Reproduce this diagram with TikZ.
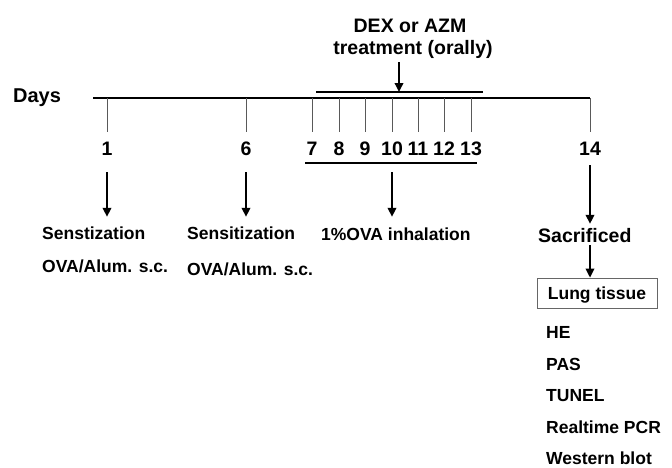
\documentclass[tikz,border=0pt]{standalone}
\usepackage{fontspec}
\setmainfont{Liberation Sans}
\usepackage{tikz}
\usetikzlibrary{positioning, arrows.meta, calc}

\tikzset{
    txt/.style={font=\fontsize{17.5}{20}\selectfont\bfseries, inner sep=0, text height=12.5pt, text depth=0pt},
    big/.style={font=\fontsize{19.5}{22}\selectfont\bfseries, inner sep=0, text height=14pt, text depth=0pt},
    arr/.style={line width=1.8pt, -{Triangle[length=9pt, width=8.5pt]}},
    daytick/.style={line width=0.9pt, black!65},
    spanline/.style={line width=2pt}
}

\begin{document}
\begin{tikzpicture}[x=1pt, y=-1pt]
    \useasboundingbox (0,0) rectangle (672,467);

    % time axis
    \node[big, font=\fontsize{20}{24}\selectfont\bfseries] (days) at (37,95) {Days};
    \draw[line width=2.5pt] (93,98) -- (590,98);

    \foreach \d/\x in {1/107, 6/246, 7/312, 8/339, 9/365, 10/392, 11/418, 12/444, 13/471, 14/590}
    {
        \draw[daytick] (\x,98) -- (\x,132);
        \node[big] (n\d) at (\x,148) {\d};
    }

    % treatment
    \coordinate (t1) at (316,92);
    \coordinate (t2) at (483,92);
    \coordinate (tmid) at (399,92);
    \draw[spanline] (t1) -- (t2);
    \node[big] (dex1) at (410,25) {DEX or AZM};
    \node[big] (dex2) at (413,47) {treatment (orally)};
    \draw[arr, shorten <=8pt] (tmid |- dex2.south) -- (tmid);

    % sensitization
    \node[txt, anchor=west] (sens1) at (42,233) {Senstization};
    \node[txt, anchor=west] (ova1) at (42,266) {OVA/Alum. s.c.};
    \node[txt, anchor=west] (sens6) at (187,233) {Sensitization};
    \node[txt, anchor=west] (ova6) at (187,269) {OVA/Alum. s.c.};
    \draw[arr, shorten <=17pt, shorten >=9.75pt] (n1.south) -- (n1 |- sens1.north);
    \draw[arr, shorten <=17pt, shorten >=9.75pt] (n6.south) -- (n6 |- sens6.north);

    % inhalation
    \coordinate (u1) at (305,163);
    \coordinate (u2) at (477,163);
    \coordinate (umid) at (392,163);
    \draw[spanline] (u1) -- (u2);
    \node[txt, anchor=west] (inh) at (321,234) {1\%OVA inhalation};
    \draw[arr, shorten <=9pt, shorten >=10.75pt] (umid) -- (umid |- inh.north);

    % sacrifice and analysis
    \node[big, anchor=west] (sac) at (538,235) {Sacrificed};
    \node[txt, draw=black!60, line width=0.8pt, minimum width=120pt, minimum height=30pt] (lung) at (597,293) {Lung tissue};
    \draw[arr, shorten <=10pt, shorten >=4pt] (n14.south) -- (n14 |- sac.north);
    \draw[arr, shorten <=3pt] (n14 |- sac.south) -- (n14 |- lung.north);

    \foreach \m/\y [count=\i] in {HE/332, PAS/364, TUNEL/395, Realtime PCR/427, Western blot/458}
    {
        \node[txt, anchor=west] (assay\i) at (546,\y) {\m};
    }
\end{tikzpicture}
\end{document}
